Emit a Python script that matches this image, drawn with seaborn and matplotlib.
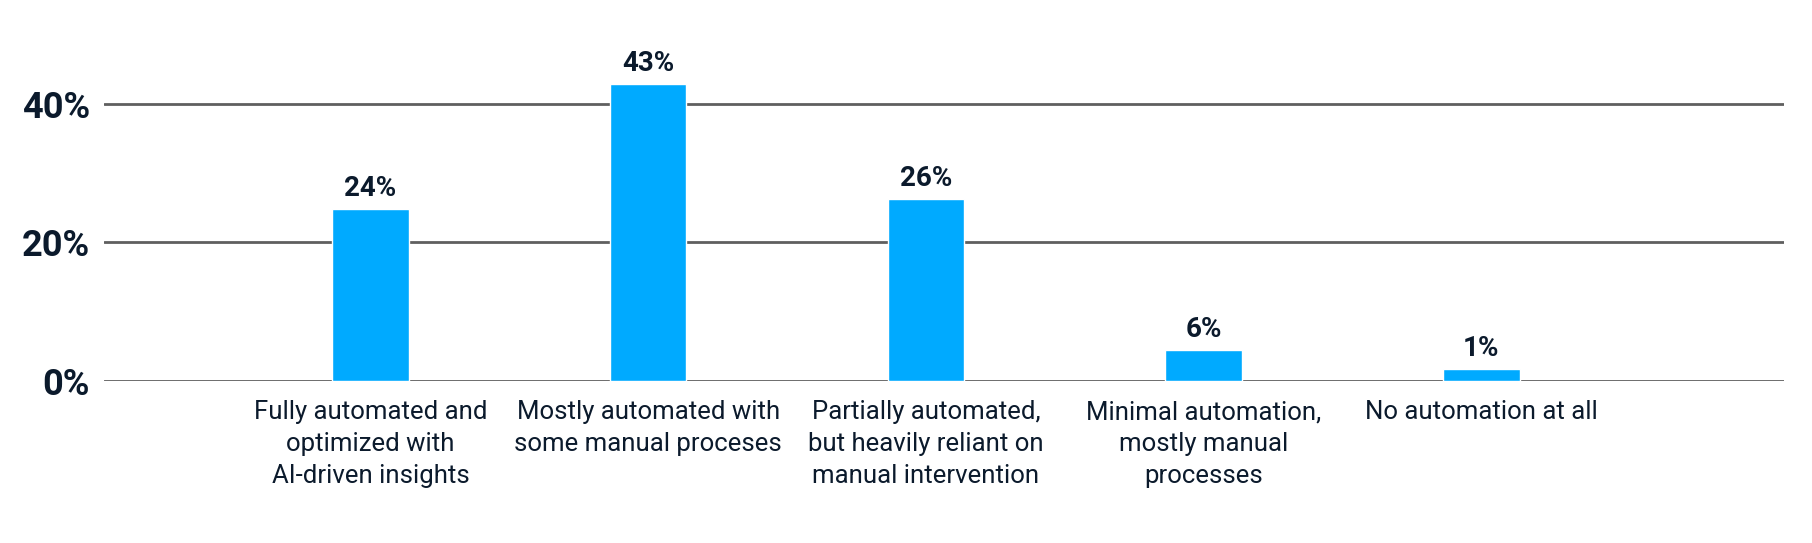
import pandas as pd
import matplotlib.pyplot as plt
import seaborn as sns

# Values
categories = [
    "Fully automated and\noptimized with\nAI-driven insights",
    "Mostly automated with\nsome manual proceses",
    "Partially automated,\nbut heavily reliant on\nmanual intervention",
    "Minimal automation,\nmostly manual\nprocesses",
    "No automation at all",
]
shares = [24.8, 42.8, 26.2, 4.5, 1.7]
share_labels = ["24%", "43%", "26%", "6%", "1%"]
y_ticks = [0, 20, 40]

data = pd.DataFrame({"category": categories, "share": shares})

sns.set_style("white")
plt.rcParams["font.family"] = ["Roboto", "DejaVu Sans"]

navy = "#0b1a2c"
fig = plt.figure(figsize=(18.12, 5.43), dpi=100)
ax = fig.add_axes([104 / 1812, 162 / 543, 1680 / 1812, 312 / 543])

sns.barplot(x="category", y="share", data=data, color="#00aaff", width=0.275,
            saturation=1, ax=ax, zorder=3)

# Value labels above bars
for i, (v, lab) in enumerate(zip(shares, share_labels)):
    ax.text(i, v + 1.0, lab, ha="center", va="bottom", fontsize=20,
            fontweight="bold", color=navy)

ax.set_xlim(-0.96, 5.09)
ax.set_ylim(0, 45)
ax.set_yticks(y_ticks)
ax.set_yticklabels([f"{t}%" for t in y_ticks], fontsize=26, fontweight="bold", color=navy)
ax.tick_params(axis="y", length=0, pad=10)
ax.tick_params(axis="x", length=0, pad=14, labelsize=18.5, labelcolor=navy)
for lbl in ax.get_xticklabels():
    lbl.set_linespacing(1.42)
ax.set_xlabel("")
ax.set_ylabel("")

for t in y_ticks:
    ax.axhline(t, color="#5f5f5f", linewidth=2.0, zorder=2)

for s in ax.spines.values():
    s.set_visible(False)

plt.savefig("out.png", dpi=100)
